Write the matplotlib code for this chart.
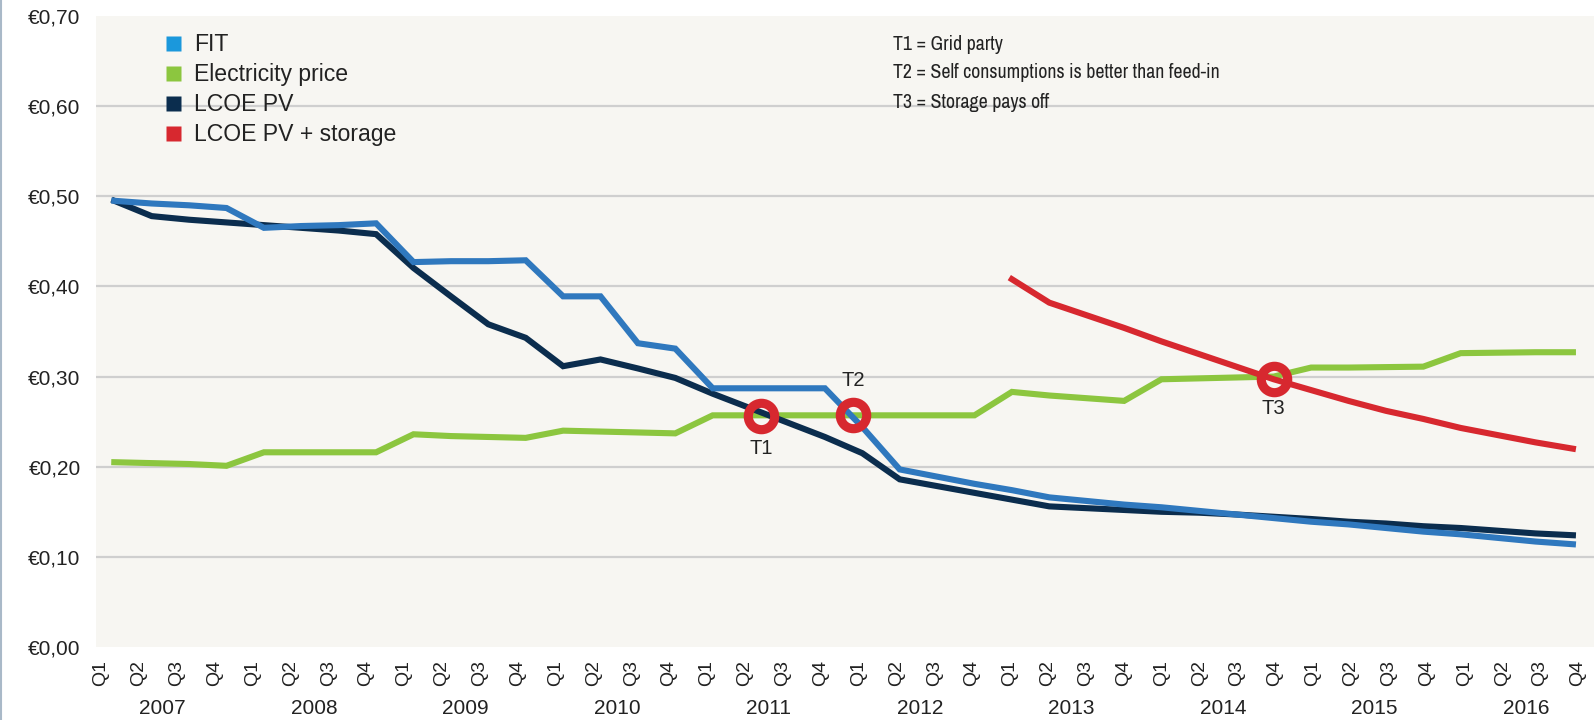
import matplotlib
matplotlib.use("Agg")
import matplotlib.pyplot as plt
import numpy as np
from matplotlib.lines import Line2D

# ---------------- data ----------------
years = [str(y) for y in range(2007, 2017)]
quarters = ["Q1", "Q2", "Q3", "Q4"]
quarter_labels = quarters * len(years)

fit = [0.495, 0.492, 0.490, 0.487, 0.465, 0.467, 0.468, 0.470,
       0.427, 0.428, 0.428, 0.429, 0.389, 0.389, 0.337, 0.331,
       0.287, 0.287, 0.287, 0.287, 0.244, 0.197, 0.189, 0.181,
       0.174, 0.166, 0.162, 0.158, 0.155, 0.151, 0.147, 0.143,
       0.139, 0.136, 0.132, 0.128, 0.125, 0.121, 0.117, 0.114]

electricity = [0.205, 0.204, 0.203, 0.201, 0.216, 0.216, 0.216, 0.216,
               0.236, 0.234, 0.233, 0.232, 0.240, 0.239, 0.238, 0.237,
               0.257, 0.257, 0.257, 0.257, 0.257, 0.257, 0.257, 0.257,
               0.283, 0.279, 0.276, 0.273, 0.297, 0.298, 0.299, 0.300,
               0.310, 0.310, 0.3105, 0.311, 0.326, 0.3265, 0.327, 0.327]

lcoe_pv = [0.495, 0.478, 0.474, 0.471, 0.468, 0.465, 0.462, 0.458,
           0.4205, 0.389, 0.358, 0.343, 0.3115, 0.319, 0.309, 0.2985,
           0.281, 0.265, 0.249, 0.233, 0.215, 0.186, 0.1785, 0.171,
           0.1635, 0.156, 0.154, 0.152, 0.150, 0.149, 0.147, 0.1445,
           0.142, 0.139, 0.137, 0.134, 0.132, 0.129, 0.126, 0.124]

storage_start = 24  # Q1 2013
lcoe_pv_storage = [0.408, 0.382, 0.368, 0.354, 0.339, 0.325, 0.311, 0.297,
                   0.285, 0.273, 0.262, 0.253, 0.243, 0.235, 0.227, 0.220]

milestones = ["T1", "T2", "T3"]
milestone_x = [17.3, 19.76, 31.0]
milestone_y = [0.256, 0.257, 0.297]
milestone_desc = ["T1 = Grid party",
                  "T2 = Self consumptions is better than feed-in",
                  "T3 = Storage pays off"]

series_names = ["FIT", "Electricity price", "LCOE PV", "LCOE PV + storage"]
y_ticks = [0.0, 0.1, 0.2, 0.3, 0.4, 0.5, 0.6, 0.7]

# ---------------- style ----------------
C_FIT = "#2f78be"
C_FIT_KEY = "#1b98dc"
C_EL = "#8cc63f"
C_LCOE = "#0b2d4e"
C_STO = "#d7282f"
BG = "#f7f6f2"
GRID = "#cfcfcf"
TXT = "#222222"
REG = ["Liberation Sans", "DejaVu Sans"]
NARROW = ["Archivo Narrow", "Liberation Sans", "DejaVu Sans"]

W, H = 1594, 720
fig = plt.figure(figsize=(W / 100, H / 100), dpi=100)
fig.patch.set_facecolor("white")

ax_l, ax_r, ax_t, ax_b = 96, 1594, 16, 647
ax = fig.add_axes([ax_l / W, 1 - ax_b / H, (ax_r - ax_l) / W, (ax_b - ax_t) / H])
ax.set_facecolor(BG)
for s in ax.spines.values():
    s.set_visible(False)

x = np.arange(len(fit))
px_per_q = 37.4
x0 = -(114.3 - ax_l) / px_per_q
ax.set_xlim(x0, x0 + (ax_r - ax_l) / px_per_q)
ax.set_ylim(0, 0.7)

# gridlines
for v in y_ticks[1:-1]:
    ax.axhline(v, color=GRID, lw=1.6, zorder=1)

lw = 4.4
ax.plot(x, electricity, color=C_EL, lw=lw, solid_joinstyle="miter", zorder=3)
ax.plot(x, lcoe_pv, color=C_LCOE, lw=lw, solid_joinstyle="miter", zorder=4)
ax.plot(x, fit, color=C_FIT, lw=lw, solid_joinstyle="miter", zorder=5)
xs = np.arange(storage_start, storage_start + len(lcoe_pv_storage))
ax.plot(xs, lcoe_pv_storage, color=C_STO, lw=lw, solid_joinstyle="miter", zorder=6)

# milestone rings
ax.plot(milestone_x, milestone_y, ls="", marker="o", ms=19, mew=6.6,
        mfc="none", mec=C_STO, zorder=7)
offsets = [-23, 25, -21]
for name, mx, my, off in zip(milestones, milestone_x, milestone_y, offsets):
    ax.annotate(name, (mx, my), xytext=(0, off), textcoords="offset points",
                ha="center", va="center", fontsize=14.5, family=REG, color=TXT)

# y ticks
ax.set_yticks(y_ticks)
ax.set_yticklabels([f"€{v:.2f}".replace(".", ",") for v in y_ticks],
                   fontsize=15, family=REG, color=TXT)
ax.tick_params(axis="y", length=0, pad=11)

# x ticks (quarter labels)
lab_pos = (101 - 114.3) / px_per_q + np.arange(len(quarter_labels)) * 37.87 / px_per_q
ax.set_xticks(lab_pos)
ax.set_xticklabels(quarter_labels, rotation=90, fontsize=14, family=REG, color=TXT)
ax.tick_params(axis="x", length=0, pad=9)

# year labels
for k, yr in enumerate(years):
    xc = lab_pos[4 * k:4 * k + 4].mean() + 0.13
    ax.text(xc, -(708 - ax_b) / (ax_b - ax_t), yr, transform=ax.get_xaxis_transform(),
            ha="center", va="center", fontsize=15, family=REG, color=TXT)

# legend
handles = [Line2D([], [], ls="", marker="s", ms=10.8, mec="none", mfc=c)
           for c in [C_FIT_KEY, C_EL, C_LCOE, C_STO]]
leg = ax.legend(handles, series_names, loc="upper left",
                bbox_to_anchor=((166 - ax_l) / (ax_r - ax_l), 1 - (33 - ax_t) / (ax_b - ax_t)),
                frameon=False, borderpad=0, borderaxespad=0, handlelength=0.65,
                handletextpad=0.55, labelspacing=0.30,
                prop={"family": REG, "size": 16.6})
for t in leg.get_texts():
    t.set_color(TXT)

# milestone descriptions
for k, d in enumerate(milestone_desc):
    fig.text(893 / W, 1 - (44 + 29 * k) / H, d, ha="left", va="center",
             fontsize=14.3, family=NARROW, color=TXT)

# left border line
fig.add_artist(Line2D([0.0008, 0.0008], [0, 1], transform=fig.transFigure,
                      color="#a9b9c8", lw=1.5))

fig.savefig("out.png", dpi=100, facecolor=fig.get_facecolor())
